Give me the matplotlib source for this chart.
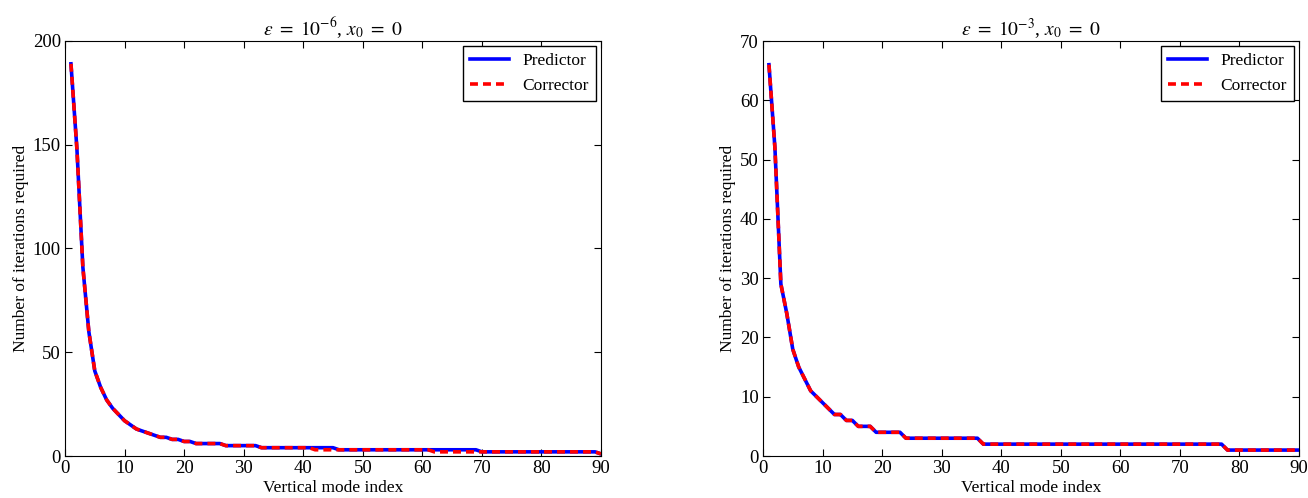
import numpy as np
import matplotlib
matplotlib.use("Agg")
import matplotlib.pyplot as plt

plt.rcParams['font.family'] = ['Liberation Serif', 'DejaVu Serif']
plt.rcParams['mathtext.fontset'] = 'stix'
plt.rcParams['xtick.direction'] = 'in'
plt.rcParams['ytick.direction'] = 'in'
plt.rcParams['xtick.top'] = True
plt.rcParams['ytick.right'] = True

# vertical mode index
modes = np.arange(1, 91)

# eps = 1e-6
pred_6 = ([189, 148, 91, 60, 41, 33, 27, 23, 20, 17, 15, 13, 12, 11, 10, 9, 9, 8, 8, 7,
           7, 6, 6, 6, 6, 6] + [5] * 6 + [4] * 13 + [3] * 24 + [2] * 20 + [1])
corr_6 = ([189, 148, 91, 60, 41, 33, 27, 23, 20, 17, 15, 13, 12, 11, 10, 9, 9, 8, 8, 7,
           7, 6, 6, 6, 6, 6] + [5] * 6 + [4] * 9 + [3] * 20 + [2] * 28 + [1])

# eps = 1e-3
pred_3 = ([66, 52, 29, 24, 18, 15, 13, 11, 10, 9, 8, 7, 7, 6, 6, 5, 5, 5]
          + [4] * 5 + [3] * 13 + [2] * 41 + [1] * 13)
corr_3 = list(pred_3)

panels = [
    (pred_6, corr_6, r'$\epsilon\ =\ 10^{-6}$, $x_0\ =\ 0$', 200, 50),
    (pred_3, corr_3, r'$\epsilon\ =\ 10^{-3}$, $x_0\ =\ 0$', 70, 10),
]

fig = plt.figure(figsize=(13.08, 4.98), dpi=100)
lefts = [65 / 1308, 763 / 1308]

for left, (pred, corr, title, ymax, ystep) in zip(lefts, panels):
    ax = fig.add_axes([left, 42 / 498, 536 / 1308, 415 / 498])
    ax.plot(modes, pred, color='blue', lw=2.6, label='Predictor')
    ax.plot(modes, corr, color='red', lw=2.6, dashes=(2.2, 1.4), label='Corrector')
    ax.set_xlim(0, 90)
    ax.set_ylim(0, ymax)
    ax.set_yticks(np.arange(0, ymax + 1, ystep))
    ax.set_xticks(np.arange(0, 91, 10))
    ax.tick_params(labelsize=13.5, length=5, pad=3)
    ax.set_xlabel('Vertical mode index', fontsize=12.5, labelpad=2)
    ax.set_ylabel('Number of iterations required', fontsize=12.5, labelpad=3)
    ax.set_title(title, fontsize=14, pad=3)
    leg = ax.legend(loc='upper right', fontsize=12.5, fancybox=False, handlelength=2.2,
                    borderaxespad=0.3, framealpha=1)
    leg.get_frame().set_edgecolor('black')

fig.savefig('out.png', dpi=100)
